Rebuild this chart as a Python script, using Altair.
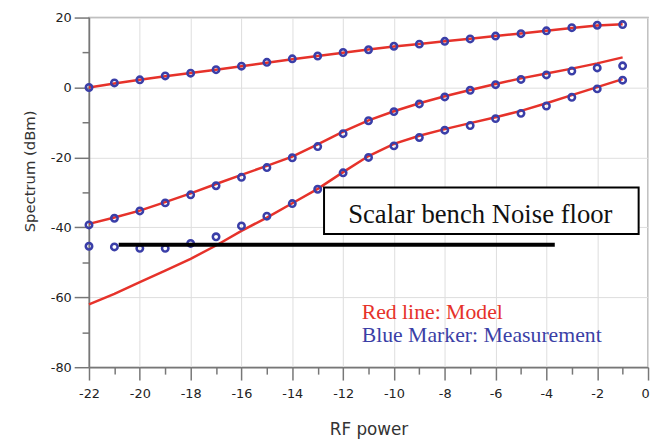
import altair as alt
import pandas as pd

# ---- data ----
rf_power = list(range(-22, 0))  # -22 .. -1

meas_top = [0.0, 1.3, 2.2, 3.3, 4.1, 5.1, 6.1, 7.2, 8.2, 9.0, 10.0,
            10.8, 11.8, 12.4, 13.2, 13.9, 14.7, 15.4, 16.2, 17.1, 17.8, 18.0]
meas_mid = [-39.3, -37.4, -35.3, -33.0, -30.7, -28.1, -25.7, -22.9, -20.1, -16.9, -13.2,
            -9.5, -6.9, -4.7, -2.7, -0.8, 0.8, 2.3, 3.6, 4.7, 5.6, 6.2]
meas_low = [-45.4, -45.6, -46.0, -46.0, -44.6, -42.7, -39.6, -36.8, -33.2, -29.1, -24.4,
            -20.0, -16.7, -14.3, -12.2, -10.9, -8.9, -7.4, -5.3, -2.8, -0.4, 2.1]

model_top = [0.0, 1.15, 2.2, 3.2, 4.15, 5.1, 6.1, 7.1, 8.1, 9.0, 9.95,
             10.85, 11.7, 12.45, 13.2, 13.95, 14.7, 15.45, 16.2, 17.0, 17.7, 18.1]
model_mid = [-39.0, -37.2, -35.2, -32.8, -30.3, -27.6, -25.0, -22.4, -19.8, -16.3, -12.6,
             -9.4, -6.8, -4.5, -2.5, -0.7, 1.0, 2.6, 4.0, 5.4, 6.9, 8.6]
model_low = [-62.0, -59.0, -55.7, -52.4, -49.0, -45.2, -41.0, -37.2, -33.1, -29.0, -24.2,
             -19.6, -16.1, -13.8, -11.9, -10.2, -8.5, -6.7, -4.5, -2.2, 0.1, 2.4]

# noise floor segment
noise_x = [-20.83]
noise_x2 = [-3.67]
noise_y = [-45.0]

# annotation box and texts
box_x, box_x2, box_y, box_y2 = [-12.75], [-0.37], [-28.6], [-41.9]
box_label = ["Scalar bench Noise floor"]
box_label_x, box_label_y = [-6.6], [-38.8]
legend_lines = ["Red line: Model", "Blue Marker: Measurement"]
legend_colors = ["#e6322a", "#3b3fa6"]
legend_x = [-11.27, -11.27]
legend_y = [-66.1, -72.9]

# y-axis title (placed as text, left of the tick labels)
y_title = ["Spectrum (dBm)"]
y_title_x, y_title_y = [-24.33], [-24.0]

RED = "#e6322a"
BLUE = "#3a3ea8"

# ---- tables ----
model_df = pd.concat([
    pd.DataFrame({"x": rf_power, "y": model_top, "s": "top"}),
    pd.DataFrame({"x": rf_power, "y": model_mid, "s": "mid"}),
    pd.DataFrame({"x": rf_power, "y": model_low, "s": "low"}),
])
meas_df = pd.concat([
    pd.DataFrame({"x": rf_power, "y": meas_top, "s": "top"}),
    pd.DataFrame({"x": rf_power, "y": meas_mid, "s": "mid"}),
    pd.DataFrame({"x": rf_power, "y": meas_low, "s": "low"}),
])
noise_df = pd.DataFrame({"x": noise_x, "x2": noise_x2, "y": noise_y})
box_df = pd.DataFrame({"x": box_x, "x2": box_x2, "y": box_y, "y2": box_y2})
box_text_df = pd.DataFrame({"x": box_label_x, "y": box_label_y, "t": box_label})
legend_df = pd.DataFrame({"x": legend_x, "y": legend_y, "t": legend_lines, "c": legend_colors})
ytitle_df = pd.DataFrame({"x": y_title_x, "y": y_title_y, "t": y_title})

xs = alt.Scale(domain=[-22, 0], nice=False, zero=False)
ys = alt.Scale(domain=[-80, 20], nice=False, zero=False)

x_axis = alt.Axis(
    values=list(range(-22, 1)),
    labelExpr="datum.value % 2 === 0 ? toString(datum.value) : ''",
    labelOverlap=False,
    labelFlush=False,
    labelBound=False,
    labelOffset={"condition": {"test": "datum.value === 0", "value": -3}, "value": 0},
    tickSize={"condition": {"test": "datum.value % 2 === 0", "value": 13}, "value": 7},
    gridOpacity={"condition": {"test": "datum.value % 2 === 0", "value": 1}, "value": 0},
    labelPadding=8,
    title="RF power",
    titleFontSize=17,
    titleY=63,
    titleBaseline="middle",
)
y_axis = alt.Axis(
    values=list(range(-80, 21, 10)),
    labelExpr="datum.value % 20 === 0 ? toString(datum.value) : ''",
    labelOverlap=False,
    labelFlush=False,
    labelBound=False,
    tickSize={"condition": {"test": "datum.value % 20 === 0", "value": 15}, "value": 7},
    gridOpacity={"condition": {"test": "datum.value % 20 === 0", "value": 1}, "value": 0},
    labelPadding=3,
    title="",
)

X = alt.X("x:Q", scale=xs, axis=x_axis)
Y = alt.Y("y:Q", scale=ys, axis=y_axis)

lines = alt.Chart(model_df).mark_line(color=RED, strokeWidth=2.5).encode(
    x=X, y=Y, detail="s:N"
)
markers = alt.Chart(meas_df).mark_point(
    shape="circle", filled=False, color=BLUE, stroke=BLUE, strokeWidth=2.6, size=42, opacity=1
).encode(x=X, y=Y)
noise = alt.Chart(noise_df).mark_rule(color="black", strokeWidth=4).encode(
    x=X, x2="x2:Q", y=Y
)
box = alt.Chart(box_df).mark_rect(fill="white", stroke="black", strokeWidth=2).encode(
    x=X, x2="x2:Q", y=Y, y2="y2:Q"
)
box_text = alt.Chart(box_text_df).mark_text(
    font="Liberation Serif", fontSize=27, color="#111", align="center", baseline="alphabetic"
).encode(x=X, y=Y, text="t:N")
legend_text = alt.Chart(legend_df).mark_text(
    font="Liberation Serif", fontSize=22, align="left", baseline="alphabetic"
).encode(x=X, y=Y, text="t:N", color=alt.Color("c:N", scale=None))
ytitle_text = alt.Chart(ytitle_df).mark_text(
    font="DejaVu Sans", fontSize=15, color="#333333", angle=270,
    align="center", baseline="middle"
).encode(x=X, y=Y, text="t:N")

chart = alt.layer(lines, markers, noise, box, box_text, legend_text, ytitle_text).properties(
    width=566, height=354,
    autosize=alt.AutoSizeParams(type="none"),
    padding={"left": 82, "top": 7, "right": 3, "bottom": 70},
).configure_axis(
    domainColor="#777777",
    domainWidth=1.5,
    tickColor="#777777",
    tickWidth=1.5,
    gridColor="#dddddd",
    gridWidth=1,
    labelFont="DejaVu Sans",
    labelFontSize=13,
    labelColor="#222222",
    titleFont="DejaVu Sans",
    titleFontWeight="normal",
    titleColor="#333333",
).configure_view(stroke="#aaaaaa", strokeWidth=1.5)

chart.save("out.html", embed_options={"renderer": "svg", "actions": False})
